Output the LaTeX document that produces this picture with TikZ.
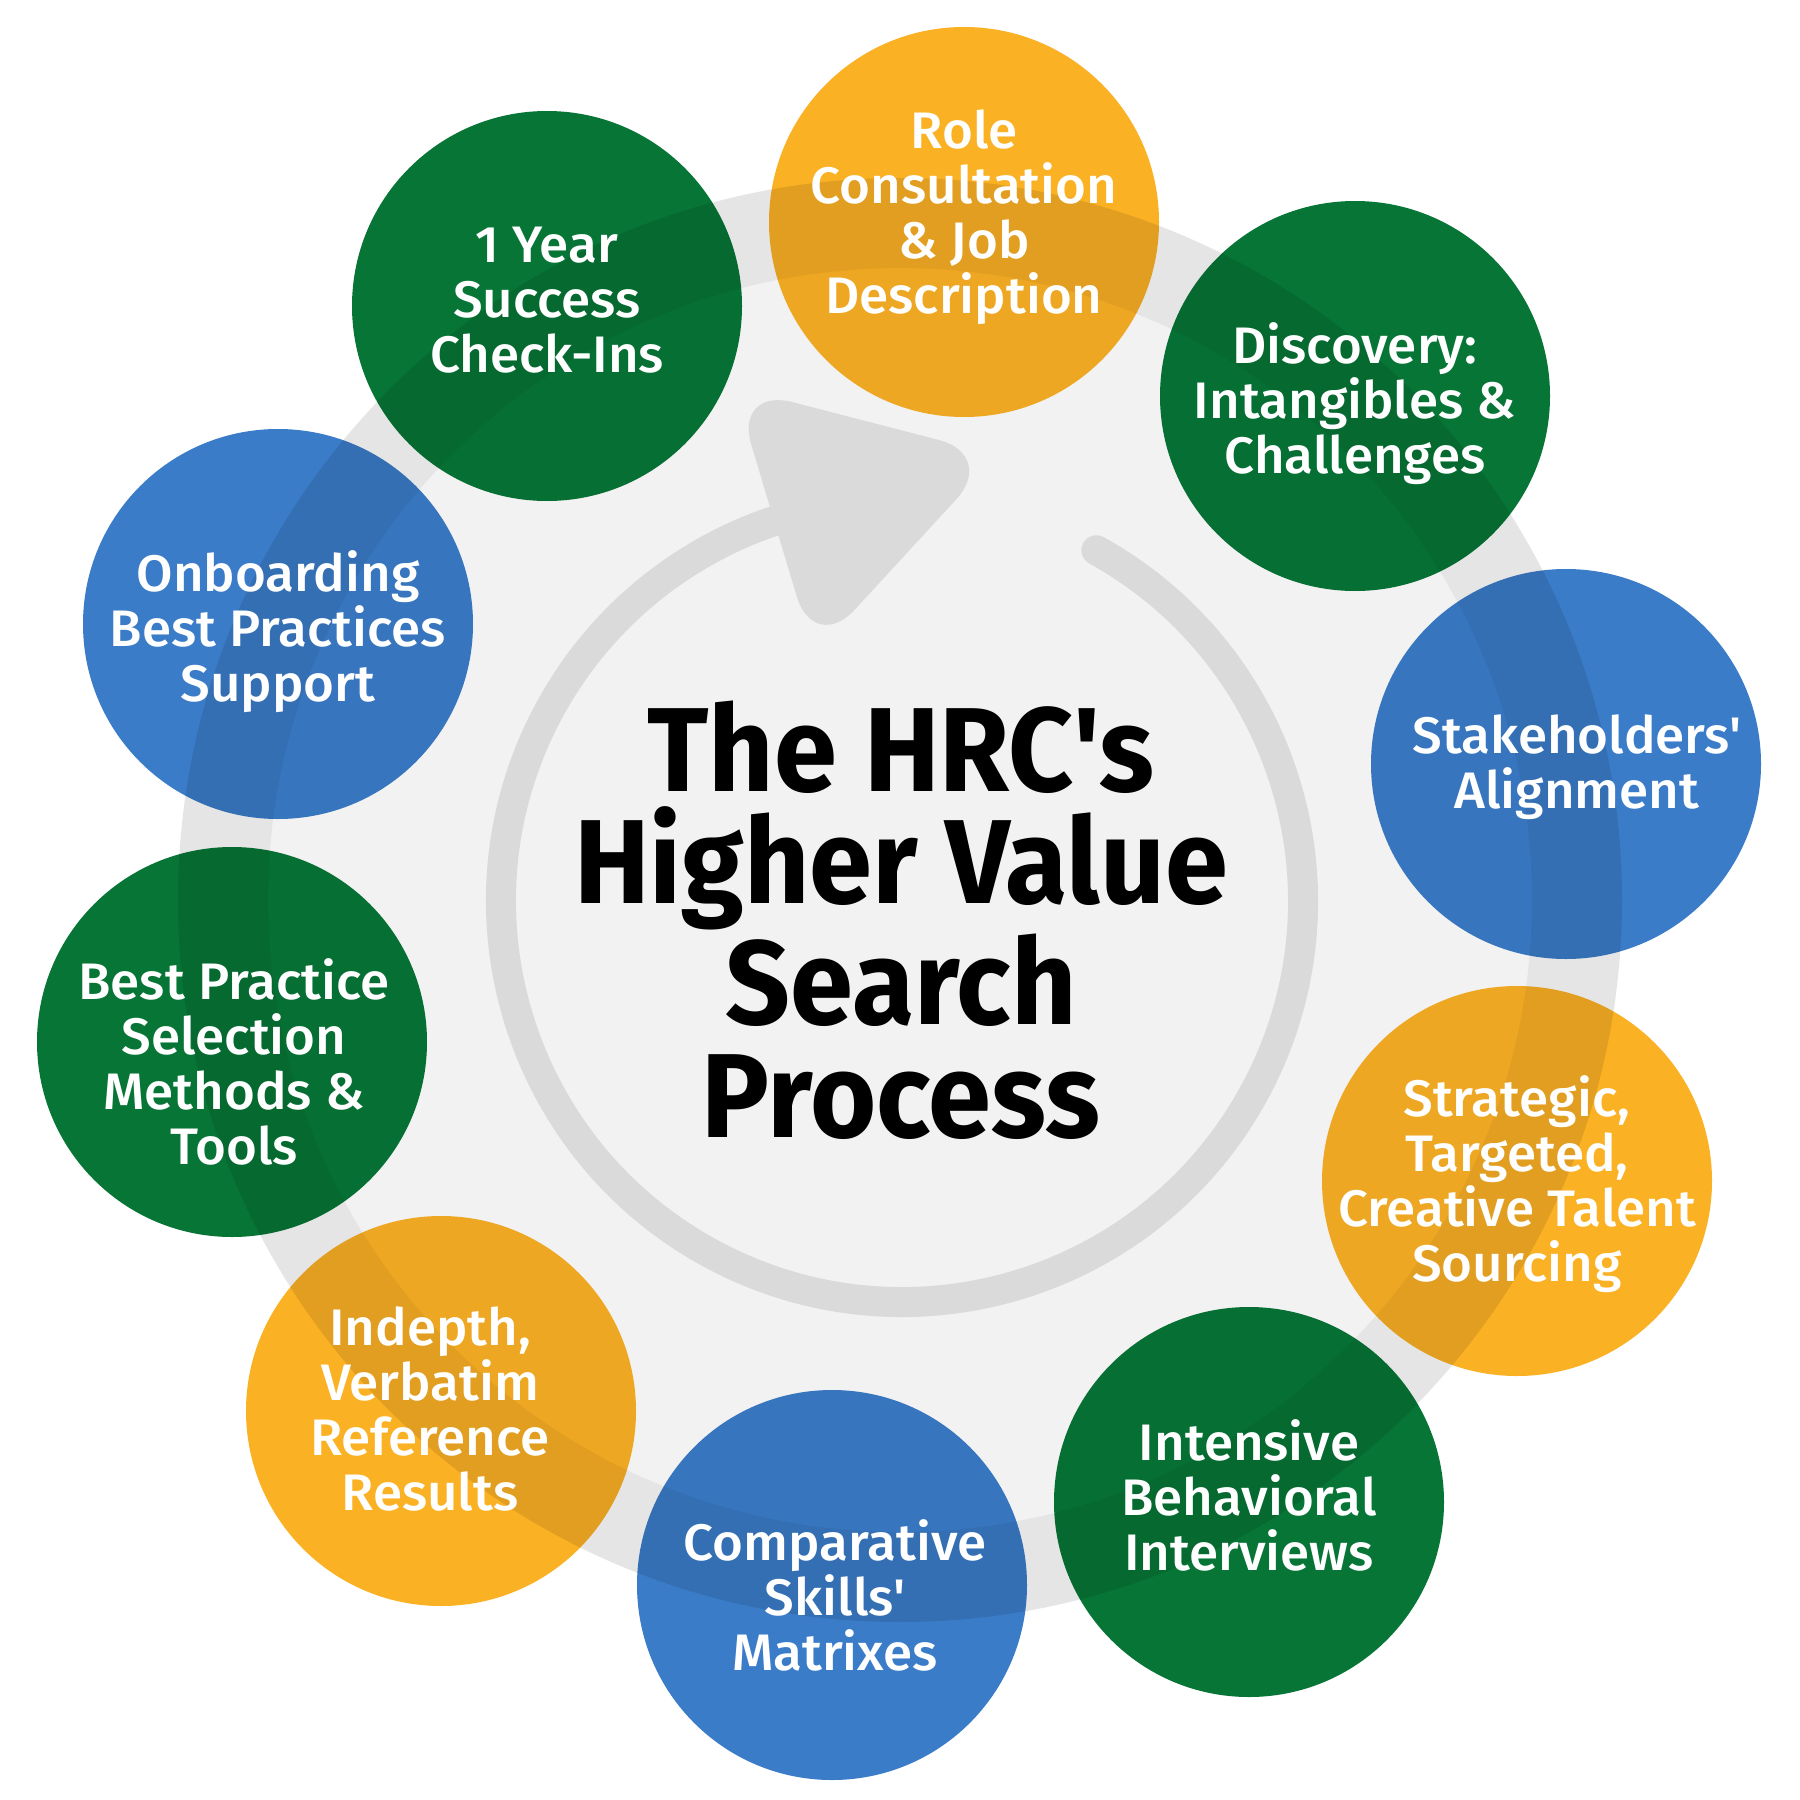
\documentclass[tikz,border=0pt]{standalone}
\usepackage{fontspec}
\setmainfont{Fira Sans}
\IfFontExistsTF{Fira Sans Medium}{\newfontfamily\circfont{Fira Sans Medium}[FakeStretch=1.03]}{\newfontfamily\circfont{Fira Sans}[FakeBold=0.6,FakeStretch=1.03]}
\newfontfamily\titlefont{Fira Sans}[FakeStretch=0.95]
\definecolor{corange}{HTML}{FBB124}
\definecolor{cgreen}{HTML}{077536}
\definecolor{cblue}{HTML}{3B7CC9}
\definecolor{discgrey}{HTML}{F2F2F2}
\definecolor{arrowgrey}{HTML}{DADADA}
\tikzset{
  bubbletext/.style={text=white, align=center, font=\circfont\fontsize{14.6pt}{15.65pt}\selectfont, inner sep=0pt},
  titletext/.style={text=black, align=center, font=\titlefont\bfseries\fontsize{34pt}{32.1pt}\selectfont, inner sep=0pt},
}
\begin{document}
\begin{tikzpicture}[x=0.01cm,y=-0.01cm]
\useasboundingbox (0,0) rectangle (1800,1800);
\fill[white] (0,0) rectangle (1800,1800);
% bubbles
\fill[corange] (964,222) circle (195);
\fill[cgreen]  (1355,396) circle (195);
\fill[cblue]   (1566,764) circle (195);
\fill[corange] (1517,1181) circle (195);
\fill[cgreen]  (1249,1502) circle (195);
\fill[cblue]   (832,1585) circle (195);
\fill[corange] (441,1411) circle (195);
\fill[cgreen]  (232,1042) circle (195);
\fill[cblue]   (278,624) circle (195);
\fill[cgreen]  (547,306) circle (195);
% grey disc and band (multiply over bubbles)
\begin{scope}[blend mode=multiply]
  \fill[discgrey] (900,900) circle (722);
  \fill[discgrey, even odd rule] (900,900) circle (722) (900,900) circle (632);
\end{scope}
% circular arrow
\coordinate (ac) at (902,901);
\draw[arrowgrey, line width=0.3cm, line cap=round] (ac) ++(-61:401) arc[start angle=-61, end angle=251.3, radius=401];
\fill[arrowgrey, rounded corners=0.6cm] (734,387) -- (997,455) -- (814,654) -- cycle;
% texts
\node[bubbletext] (role) at (964,217) {Role\\Consultation\\\& Job\\Description};
\node[bubbletext] (disc) at (1355,404) {Discovery:\\Intangibles \&\\Challenges};
\node[bubbletext] (stak) at (1577,767) {Stakeholders\char"0027\\Alignment};
\node[bubbletext] (strat) at (1517,1184) {Strategic,\\Targeted,\\Creative Talent\\Sourcing};
\node[bubbletext] (inter) at (1249,1495) {Intensive\\Behavioral\\Interviews};
\node[bubbletext] (comp) at (835,1595) {Comparative\\Skills\char"0027\\Matrixes};
\node[bubbletext] (indep) at (430,1409) {Indepth,\\Verbatim\\Reference\\Results};
\node[bubbletext] (best) at (234,1062) {Best Practice\\Selection\\Methods \&\\Tools};
\node[bubbletext] (onb) at (278,632) {Onboarding\\Best Practices\\Support};
\node[bubbletext] (year) at (547,300) {1 Year\\Success\\Check-Ins};
\node[titletext] (title) at (901,920) {The HRC\char"0027s\\Higher Value\\Search\\Process};
\end{tikzpicture}
\end{document}
